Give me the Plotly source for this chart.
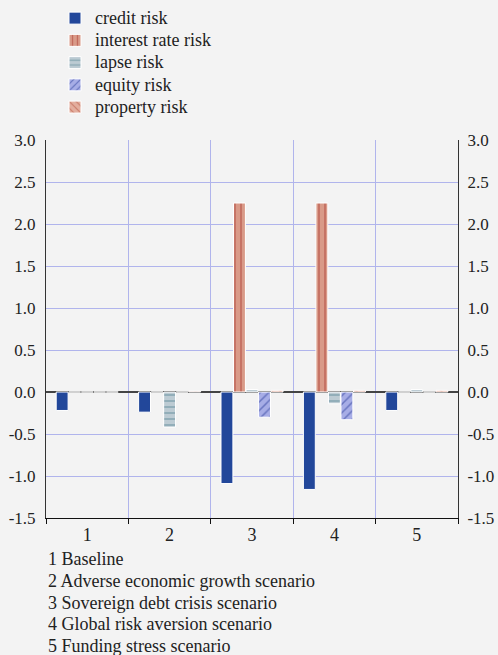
import plotly.graph_objects as go

categories = ["1", "2", "3", "4", "5"]
credit_risk = [-0.22, -0.24, -1.09, -1.16, -0.22]
interest_rate_risk = [0.0, 0.0, 2.25, 2.25, 0.0]
lapse_risk = [0.0, -0.42, 0.03, -0.14, 0.03]
equity_risk = [0.0, 0.0, -0.30, -0.33, 0.0]
property_risk = [0.0, 0.01, 0.02, 0.02, 0.02]
y_ticks = [-1.5, -1.0, -0.5, 0.0, 0.5, 1.0, 1.5, 2.0, 2.5, 3.0]
y_tick_labels = ["-1.5", "-1.0", "-0.5", "0.0", "0.5", "1.0", "1.5", "2.0", "2.5", "3.0"]
notes = [
    "1 Baseline",
    "2 Adverse economic growth scenario",
    "3 Sovereign debt crisis scenario",
    "4 Global risk aversion scenario",
    "5 Funding stress scenario",
]

FONT = "Liberation Serif"
BG = "#F3F3F3"
W, H = 498, 655
PLOT_LEFT, PLOT_RIGHT = 46, 458
PLOT_TOP, PLOT_BOTTOM = 140, 518

series = [
    ("credit risk", credit_risk, "#22479A", "", "#22479A"),
    ("interest rate risk", interest_rate_risk, "#D99A88", "|", "#A8322A"),
    ("lapse risk", lapse_risk, "#BCCBD3", "-", "#4C7D8C"),
    ("equity risk", equity_risk, "#A7ADE6", "/", "#2B3E9A"),
    ("property risk", property_risk, "#E3AE9E", "\\", "#B5533E"),
]

fig = go.Figure()
for name, vals, color, shape, fg in series:
    pattern = dict(shape=shape, fgcolor=fg, bgcolor=color, size=6, solidity=0.25) if shape else None
    fig.add_trace(go.Bar(
        name="<span style='font-size:18px'>%s</span>" % name, x=categories, y=vals,
        marker=dict(color=color, line=dict(color="white", width=1), pattern=pattern),
    ))

# invisible companion trace so the mirrored right-hand axis is drawn
fig.add_trace(go.Scatter(
    x=categories, y=credit_risk, yaxis="y2", mode="markers",
    marker=dict(opacity=0), showlegend=False, hoverinfo="skip",
))

pw = PLOT_RIGHT - PLOT_LEFT
ph = PLOT_BOTTOM - PLOT_TOP

axis_common = dict(
    range=[-1.5, 3.0], tickvals=y_ticks, ticktext=y_tick_labels,
    showline=True, linecolor="#333333", linewidth=1, ticks="",
    tickfont=dict(family=FONT, size=17),
)

fig.update_layout(
    width=W, height=H,
    paper_bgcolor=BG, plot_bgcolor=BG,
    margin=dict(l=PLOT_LEFT, r=W - PLOT_RIGHT, t=PLOT_TOP, b=H - PLOT_BOTTOM, autoexpand=False),
    font=dict(family=FONT, size=16, color="#222222"),
    barmode="group", bargap=0.24, bargroupgap=0.05,
    showlegend=True,
    legend=dict(
        xref="paper", yref="paper", x=(55 - PLOT_LEFT) / pw, y=(PLOT_BOTTOM - 2) / ph,
        xanchor="left", yanchor="top",
        font=dict(family=FONT, size=14.8, color="#222222"),
        bgcolor="rgba(0,0,0,0)", tracegroupgap=0, itemwidth=30,
    ),
    xaxis=dict(
        type="category", tickson="boundaries", ticks="outside", ticklen=5,
        tickcolor="#111111", showline=True, linecolor="#111111", linewidth=1,
        showgrid=True, gridcolor="#B0B4EC", gridwidth=1,
        tickfont=dict(family=FONT, size=18),
    ),
    yaxis=dict(
        **axis_common,
        showgrid=True, gridcolor="#B0B4EC", gridwidth=1,
        zeroline=True, zerolinecolor="#444444", zerolinewidth=1.5,
        ticklabelstandoff=6,
    ),
    yaxis2=dict(
        **axis_common,
        overlaying="y", side="right", anchor="x",
        showgrid=False, zeroline=False, ticklabelstandoff=5,
    ),
)

for i, line in enumerate(notes):
    py = 559 + 21.8 * i
    fig.add_annotation(
        text=line, xref="paper", yref="paper",
        x=0, y=(PLOT_BOTTOM - py) / ph,
        xanchor="left", yanchor="middle", showarrow=False,
        font=dict(family=FONT, size=18, color="#222222"),
    )

fig.write_html(
    "out.html",
    config={"displayModeBar": False},
    post_script="document.body.style.margin='0';document.body.style.background='%s';" % BG,
)
